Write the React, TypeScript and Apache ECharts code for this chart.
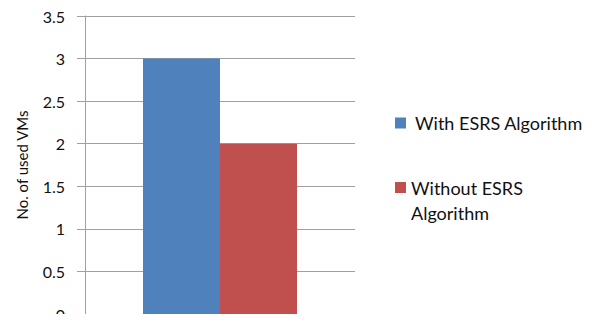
import React, { useEffect, useRef } from "react";
import * as echarts from "echarts";

const categories = ["VMs"];
const seriesNames = ["With ESRS Algorithm", "Without ESRS Algorithm"];
const withEsrs = [3];
const withoutEsrs = [2];
const yTicks = [0, 0.5, 1, 1.5, 2, 2.5, 3, 3.5];

const FONT = "Lato, 'Noto Sans', sans-serif";

export default function App() {
  const ref = useRef<HTMLDivElement>(null);

  useEffect(() => {
    if (!ref.current) return;
    const chart = echarts.init(ref.current, undefined, { renderer: "svg" });
    chart.setOption({
      animation: false,
      backgroundColor: "#ffffff",
      grid: { left: 85, top: 16, width: 270, height: 301 },
      xAxis: {
        type: "category",
        data: categories,
        axisLine: { show: true, lineStyle: { color: "#a0a0a0", width: 1 } },
        axisTick: { show: false },
        axisLabel: { show: false },
      },
      yAxis: {
        type: "value",
        min: 0,
        max: 3.5,
        interval: 0.5,
        name: "No. of used VMs",
        nameLocation: "middle",
        nameGap: 56,
        nameTextStyle: { fontFamily: FONT, fontSize: 15, color: "#111" },
        axisLine: { show: true, lineStyle: { color: "#a0a0a0", width: 1 } },
        axisTick: { show: true, length: 8, lineStyle: { color: "#a0a0a0" } },
        axisLabel: {
          fontFamily: FONT,
          fontSize: 16,
          color: "#111",
          margin: 20,
          formatter: (v: number) => (yTicks.includes(v) ? String(v) : ""),
        },
        splitLine: { show: true, lineStyle: { color: "#a0a0a0", width: 1 } },
      },
      legend: [
        {
          data: [seriesNames[0]],
          left: 395,
          top: 114,
          padding: 0,
          itemWidth: 11,
          itemHeight: 11,
          icon: "rect",
          textStyle: {
            fontFamily: FONT,
            fontSize: 18,
            color: "#111",
            padding: [0, 0, 0, 4],
          },
        },
        {
          data: [seriesNames[1]],
          left: 395,
          top: 150,
          padding: 0,
          itemWidth: 11,
          itemHeight: 11,
          icon: "rect",
          // leading blank line keeps the icon level with the first text line
          formatter: () => "\nWithout ESRS\nAlgorithm",
          textStyle: {
            fontFamily: FONT,
            fontSize: 18,
            color: "#111",
            lineHeight: 25,
          },
        },
      ],
      series: [
        {
          name: seriesNames[0],
          type: "bar",
          data: withEsrs,
          barWidth: 77,
          barGap: "0%",
          itemStyle: { color: "#4f81bd" },
        },
        {
          name: seriesNames[1],
          type: "bar",
          data: withoutEsrs,
          barWidth: 77,
          barGap: "0%",
          itemStyle: { color: "#c0504d" },
        },
      ],
    });
    return () => chart.dispose();
  }, []);

  return <div ref={ref} style={{ width: 595, height: 322, margin: -8 }} />;
}
